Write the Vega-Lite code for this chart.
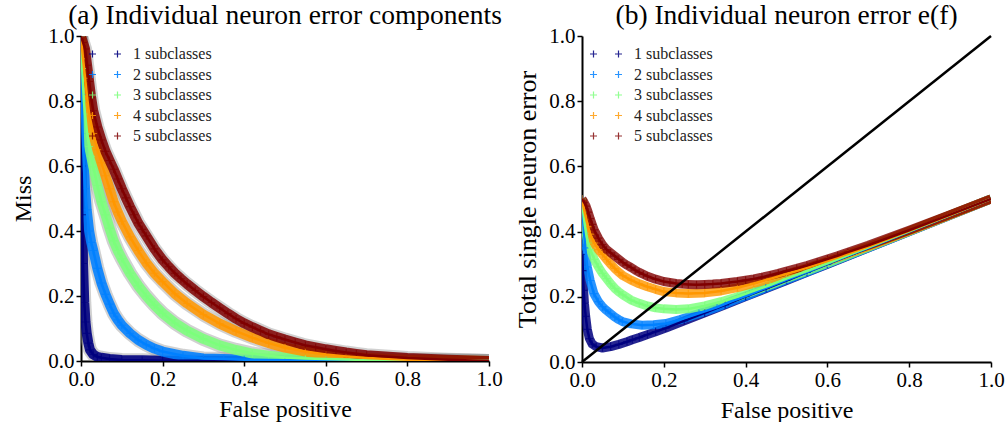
{
  "$schema": "https://vega.github.io/schema/vega-lite/v6.json",
  "background": "white",
  "padding": {"left": 11, "top": 1, "right": 0, "bottom": 0},
  "spacing": 11,
  "config": {
    "font": "Liberation Serif",
    "view": {"stroke": null},
    "axis": {
      "grid": false,
      "domainColor": "black",
      "domainWidth": 2,
      "tickColor": "black",
      "tickWidth": 1.5,
      "tickSize": 5,
      "labelFont": "Liberation Serif",
      "labelFontSize": 21,
      "labelColor": "black",
      "labelPadding": 2,
      "labelFlush": false,
      "titleFont": "Liberation Serif",
      "titleFontSize": 24,
      "titleFontWeight": "normal",
      "titleColor": "black"
    },
    "title": {"font": "Liberation Serif", "fontSize": 27.5, "fontWeight": "normal", "color": "black", "anchor": "middle", "frame": "group", "offset": -4}
  },
  "datasets": {
    "a": [
      {"s":"1 subclasses","f":0,"v":1.0},{"s":"1 subclasses","f":0.001,"v":0.8},{"s":"1 subclasses","f":0.002,"v":0.6},{"s":"1 subclasses","f":0.003,"v":0.45},{"s":"1 subclasses","f":0.005,"v":0.3},{"s":"1 subclasses","f":0.008,"v":0.18},{"s":"1 subclasses","f":0.011,"v":0.12},{"s":"1 subclasses","f":0.014,"v":0.085},{"s":"1 subclasses","f":0.018,"v":0.055},{"s":"1 subclasses","f":0.022,"v":0.034},{"s":"1 subclasses","f":0.03,"v":0.02},{"s":"1 subclasses","f":0.04,"v":0.013},{"s":"1 subclasses","f":0.05,"v":0.01},{"s":"1 subclasses","f":0.07,"v":0.006},{"s":"1 subclasses","f":0.1,"v":0.003},{"s":"1 subclasses","f":0.15,"v":0.002},{"s":"1 subclasses","f":0.2,"v":0.001},{"s":"1 subclasses","f":0.3,"v":0.0005},{"s":"1 subclasses","f":0.5,"v":0},{"s":"1 subclasses","f":1,"v":0},
      {"s":"2 subclasses","f":0,"v":1.0},{"s":"2 subclasses","f":0.001,"v":0.9},{"s":"2 subclasses","f":0.002,"v":0.82},{"s":"2 subclasses","f":0.004,"v":0.7},{"s":"2 subclasses","f":0.007,"v":0.6},{"s":"2 subclasses","f":0.01,"v":0.53},{"s":"2 subclasses","f":0.014,"v":0.465},{"s":"2 subclasses","f":0.02,"v":0.4},{"s":"2 subclasses","f":0.025,"v":0.365},{"s":"2 subclasses","f":0.03,"v":0.34},{"s":"2 subclasses","f":0.04,"v":0.285},{"s":"2 subclasses","f":0.05,"v":0.24},{"s":"2 subclasses","f":0.06,"v":0.205},{"s":"2 subclasses","f":0.07,"v":0.175},{"s":"2 subclasses","f":0.08,"v":0.147},{"s":"2 subclasses","f":0.09,"v":0.127},{"s":"2 subclasses","f":0.1,"v":0.11},{"s":"2 subclasses","f":0.12,"v":0.085},{"s":"2 subclasses","f":0.14,"v":0.065},{"s":"2 subclasses","f":0.16,"v":0.05},{"s":"2 subclasses","f":0.18,"v":0.038},{"s":"2 subclasses","f":0.2,"v":0.029},{"s":"2 subclasses","f":0.25,"v":0.016},{"s":"2 subclasses","f":0.3,"v":0.008},{"s":"2 subclasses","f":0.35,"v":0.006},{"s":"2 subclasses","f":0.4,"v":0.004},{"s":"2 subclasses","f":0.5,"v":0.002},{"s":"2 subclasses","f":0.6,"v":0.001},{"s":"2 subclasses","f":0.8,"v":0.0005},{"s":"2 subclasses","f":1,"v":0},
      {"s":"3 subclasses","f":0,"v":1.0},{"s":"3 subclasses","f":0.003,"v":0.9},{"s":"3 subclasses","f":0.007,"v":0.8},{"s":"3 subclasses","f":0.01,"v":0.76},{"s":"3 subclasses","f":0.015,"v":0.7},{"s":"3 subclasses","f":0.02,"v":0.66},{"s":"3 subclasses","f":0.025,"v":0.63},{"s":"3 subclasses","f":0.03,"v":0.598},{"s":"3 subclasses","f":0.04,"v":0.54},{"s":"3 subclasses","f":0.05,"v":0.49},{"s":"3 subclasses","f":0.06,"v":0.45},{"s":"3 subclasses","f":0.07,"v":0.408},{"s":"3 subclasses","f":0.08,"v":0.37},{"s":"3 subclasses","f":0.09,"v":0.34},{"s":"3 subclasses","f":0.1,"v":0.315},{"s":"3 subclasses","f":0.12,"v":0.27},{"s":"3 subclasses","f":0.14,"v":0.232},{"s":"3 subclasses","f":0.16,"v":0.2},{"s":"3 subclasses","f":0.18,"v":0.172},{"s":"3 subclasses","f":0.2,"v":0.147},{"s":"3 subclasses","f":0.23,"v":0.117},{"s":"3 subclasses","f":0.26,"v":0.093},{"s":"3 subclasses","f":0.3,"v":0.068},{"s":"3 subclasses","f":0.34,"v":0.048},{"s":"3 subclasses","f":0.38,"v":0.034},{"s":"3 subclasses","f":0.42,"v":0.023},{"s":"3 subclasses","f":0.46,"v":0.016},{"s":"3 subclasses","f":0.5,"v":0.011},{"s":"3 subclasses","f":0.55,"v":0.008},{"s":"3 subclasses","f":0.6,"v":0.006},{"s":"3 subclasses","f":0.7,"v":0.003},{"s":"3 subclasses","f":0.8,"v":0.002},{"s":"3 subclasses","f":1,"v":0},
      {"s":"4 subclasses","f":0,"v":1.0},{"s":"4 subclasses","f":0.005,"v":0.93},{"s":"4 subclasses","f":0.01,"v":0.87},{"s":"4 subclasses","f":0.015,"v":0.81},{"s":"4 subclasses","f":0.02,"v":0.76},{"s":"4 subclasses","f":0.03,"v":0.7},{"s":"4 subclasses","f":0.04,"v":0.65},{"s":"4 subclasses","f":0.05,"v":0.61},{"s":"4 subclasses","f":0.06,"v":0.57},{"s":"4 subclasses","f":0.07,"v":0.53},{"s":"4 subclasses","f":0.08,"v":0.49},{"s":"4 subclasses","f":0.09,"v":0.458},{"s":"4 subclasses","f":0.1,"v":0.43},{"s":"4 subclasses","f":0.12,"v":0.382},{"s":"4 subclasses","f":0.14,"v":0.34},{"s":"4 subclasses","f":0.16,"v":0.302},{"s":"4 subclasses","f":0.18,"v":0.27},{"s":"4 subclasses","f":0.2,"v":0.244},{"s":"4 subclasses","f":0.23,"v":0.207},{"s":"4 subclasses","f":0.26,"v":0.177},{"s":"4 subclasses","f":0.3,"v":0.143},{"s":"4 subclasses","f":0.34,"v":0.115},{"s":"4 subclasses","f":0.38,"v":0.092},{"s":"4 subclasses","f":0.42,"v":0.072},{"s":"4 subclasses","f":0.46,"v":0.055},{"s":"4 subclasses","f":0.5,"v":0.041},{"s":"4 subclasses","f":0.55,"v":0.029},{"s":"4 subclasses","f":0.6,"v":0.02},{"s":"4 subclasses","f":0.65,"v":0.014},{"s":"4 subclasses","f":0.7,"v":0.009},{"s":"4 subclasses","f":0.8,"v":0.004},{"s":"4 subclasses","f":0.9,"v":0.002},{"s":"4 subclasses","f":1,"v":0},
      {"s":"5 subclasses","f":0,"v":1.0},{"s":"5 subclasses","f":0.005,"v":0.98},{"s":"5 subclasses","f":0.01,"v":0.96},{"s":"5 subclasses","f":0.015,"v":0.91},{"s":"5 subclasses","f":0.02,"v":0.86},{"s":"5 subclasses","f":0.025,"v":0.81},{"s":"5 subclasses","f":0.03,"v":0.77},{"s":"5 subclasses","f":0.04,"v":0.72},{"s":"5 subclasses","f":0.05,"v":0.68},{"s":"5 subclasses","f":0.06,"v":0.645},{"s":"5 subclasses","f":0.07,"v":0.617},{"s":"5 subclasses","f":0.08,"v":0.59},{"s":"5 subclasses","f":0.09,"v":0.56},{"s":"5 subclasses","f":0.1,"v":0.53},{"s":"5 subclasses","f":0.11,"v":0.502},{"s":"5 subclasses","f":0.12,"v":0.475},{"s":"5 subclasses","f":0.13,"v":0.45},{"s":"5 subclasses","f":0.14,"v":0.425},{"s":"5 subclasses","f":0.15,"v":0.405},{"s":"5 subclasses","f":0.16,"v":0.385},{"s":"5 subclasses","f":0.18,"v":0.345},{"s":"5 subclasses","f":0.2,"v":0.311},{"s":"5 subclasses","f":0.215,"v":0.29},{"s":"5 subclasses","f":0.23,"v":0.27},{"s":"5 subclasses","f":0.245,"v":0.253},{"s":"5 subclasses","f":0.26,"v":0.237},{"s":"5 subclasses","f":0.28,"v":0.217},{"s":"5 subclasses","f":0.3,"v":0.198},{"s":"5 subclasses","f":0.32,"v":0.18},{"s":"5 subclasses","f":0.34,"v":0.163},{"s":"5 subclasses","f":0.36,"v":0.146},{"s":"5 subclasses","f":0.38,"v":0.13},{"s":"5 subclasses","f":0.4,"v":0.116},{"s":"5 subclasses","f":0.42,"v":0.104},{"s":"5 subclasses","f":0.44,"v":0.093},{"s":"5 subclasses","f":0.46,"v":0.082},{"s":"5 subclasses","f":0.48,"v":0.074},{"s":"5 subclasses","f":0.5,"v":0.066},{"s":"5 subclasses","f":0.525,"v":0.057},{"s":"5 subclasses","f":0.55,"v":0.048},{"s":"5 subclasses","f":0.575,"v":0.042},{"s":"5 subclasses","f":0.6,"v":0.036},{"s":"5 subclasses","f":0.625,"v":0.031},{"s":"5 subclasses","f":0.65,"v":0.026},{"s":"5 subclasses","f":0.675,"v":0.022},{"s":"5 subclasses","f":0.7,"v":0.018},{"s":"5 subclasses","f":0.8,"v":0.009},{"s":"5 subclasses","f":0.9,"v":0.004},{"s":"5 subclasses","f":1,"v":0}
    ],
    "b": [
      {"s":"1 subclasses","f":0.001,"v":0.33},{"s":"1 subclasses","f":0.002,"v":0.28},{"s":"1 subclasses","f":0.004,"v":0.22},{"s":"1 subclasses","f":0.006,"v":0.18},{"s":"1 subclasses","f":0.009,"v":0.14},{"s":"1 subclasses","f":0.013,"v":0.1},{"s":"1 subclasses","f":0.018,"v":0.072},{"s":"1 subclasses","f":0.025,"v":0.055},{"s":"1 subclasses","f":0.035,"v":0.047},{"s":"1 subclasses","f":0.05,"v":0.043},{"s":"1 subclasses","f":0.07,"v":0.047},{"s":"1 subclasses","f":0.09,"v":0.054},{"s":"1 subclasses","f":0.11,"v":0.062},{"s":"1 subclasses","f":0.123,"v":0.068},{"s":"1 subclasses","f":0.14,"v":0.075},{"s":"1 subclasses","f":0.16,"v":0.084},{"s":"1 subclasses","f":0.18,"v":0.093},{"s":"1 subclasses","f":0.205,"v":0.104},{"s":"1 subclasses","f":0.25,"v":0.126},{"s":"1 subclasses","f":0.3,"v":0.151},{"s":"1 subclasses","f":0.35,"v":0.1755},{"s":"1 subclasses","f":0.4,"v":0.2005},{"s":"1 subclasses","f":0.45,"v":0.2252},{"s":"1 subclasses","f":0.5,"v":0.25},{"s":"1 subclasses","f":0.55,"v":0.275},{"s":"1 subclasses","f":0.6,"v":0.3},{"s":"1 subclasses","f":0.8,"v":0.4},{"s":"1 subclasses","f":1,"v":0.5},
      {"s":"2 subclasses","f":0,"v":0.5},{"s":"2 subclasses","f":0.002,"v":0.45},{"s":"2 subclasses","f":0.005,"v":0.395},{"s":"2 subclasses","f":0.008,"v":0.35},{"s":"2 subclasses","f":0.013,"v":0.292},{"s":"2 subclasses","f":0.02,"v":0.25},{"s":"2 subclasses","f":0.029,"v":0.21},{"s":"2 subclasses","f":0.04,"v":0.185},{"s":"2 subclasses","f":0.05,"v":0.17},{"s":"2 subclasses","f":0.058,"v":0.16},{"s":"2 subclasses","f":0.07,"v":0.148},{"s":"2 subclasses","f":0.08,"v":0.138},{"s":"2 subclasses","f":0.09,"v":0.13},{"s":"2 subclasses","f":0.099,"v":0.124},{"s":"2 subclasses","f":0.12,"v":0.117},{"s":"2 subclasses","f":0.147,"v":0.113},{"s":"2 subclasses","f":0.175,"v":0.114},{"s":"2 subclasses","f":0.205,"v":0.118},{"s":"2 subclasses","f":0.24,"v":0.13},{"s":"2 subclasses","f":0.286,"v":0.149},{"s":"2 subclasses","f":0.33,"v":0.168},{"s":"2 subclasses","f":0.367,"v":0.187},{"s":"2 subclasses","f":0.41,"v":0.207},{"s":"2 subclasses","f":0.449,"v":0.227},{"s":"2 subclasses","f":0.5,"v":0.252},{"s":"2 subclasses","f":0.55,"v":0.276},{"s":"2 subclasses","f":0.6,"v":0.301},{"s":"2 subclasses","f":0.7,"v":0.3505},{"s":"2 subclasses","f":0.8,"v":0.4003},{"s":"2 subclasses","f":0.9,"v":0.45},{"s":"2 subclasses","f":1,"v":0.5},
      {"s":"3 subclasses","f":0,"v":0.5},{"s":"3 subclasses","f":0.003,"v":0.46},{"s":"3 subclasses","f":0.007,"v":0.42},{"s":"3 subclasses","f":0.01,"v":0.395},{"s":"3 subclasses","f":0.015,"v":0.365},{"s":"3 subclasses","f":0.02,"v":0.345},{"s":"3 subclasses","f":0.03,"v":0.315},{"s":"3 subclasses","f":0.04,"v":0.292},{"s":"3 subclasses","f":0.05,"v":0.272},{"s":"3 subclasses","f":0.06,"v":0.256},{"s":"3 subclasses","f":0.07,"v":0.24},{"s":"3 subclasses","f":0.08,"v":0.226},{"s":"3 subclasses","f":0.09,"v":0.215},{"s":"3 subclasses","f":0.1,"v":0.206},{"s":"3 subclasses","f":0.12,"v":0.19},{"s":"3 subclasses","f":0.14,"v":0.18},{"s":"3 subclasses","f":0.16,"v":0.172},{"s":"3 subclasses","f":0.18,"v":0.166},{"s":"3 subclasses","f":0.2,"v":0.163},{"s":"3 subclasses","f":0.23,"v":0.161},{"s":"3 subclasses","f":0.26,"v":0.163},{"s":"3 subclasses","f":0.3,"v":0.172},{"s":"3 subclasses","f":0.34,"v":0.185},{"s":"3 subclasses","f":0.38,"v":0.2},{"s":"3 subclasses","f":0.42,"v":0.218},{"s":"3 subclasses","f":0.46,"v":0.236},{"s":"3 subclasses","f":0.5,"v":0.256},{"s":"3 subclasses","f":0.55,"v":0.279},{"s":"3 subclasses","f":0.6,"v":0.303},{"s":"3 subclasses","f":0.7,"v":0.352},{"s":"3 subclasses","f":0.8,"v":0.401},{"s":"3 subclasses","f":0.9,"v":0.4505},{"s":"3 subclasses","f":1,"v":0.5},
      {"s":"4 subclasses","f":0,"v":0.5},{"s":"4 subclasses","f":0.005,"v":0.467},{"s":"4 subclasses","f":0.01,"v":0.44},{"s":"4 subclasses","f":0.015,"v":0.415},{"s":"4 subclasses","f":0.02,"v":0.392},{"s":"4 subclasses","f":0.03,"v":0.365},{"s":"4 subclasses","f":0.04,"v":0.345},{"s":"4 subclasses","f":0.05,"v":0.33},{"s":"4 subclasses","f":0.06,"v":0.315},{"s":"4 subclasses","f":0.07,"v":0.3},{"s":"4 subclasses","f":0.08,"v":0.287},{"s":"4 subclasses","f":0.09,"v":0.275},{"s":"4 subclasses","f":0.1,"v":0.265},{"s":"4 subclasses","f":0.12,"v":0.251},{"s":"4 subclasses","f":0.14,"v":0.24},{"s":"4 subclasses","f":0.16,"v":0.231},{"s":"4 subclasses","f":0.18,"v":0.223},{"s":"4 subclasses","f":0.2,"v":0.216},{"s":"4 subclasses","f":0.23,"v":0.212},{"s":"4 subclasses","f":0.26,"v":0.21},{"s":"4 subclasses","f":0.3,"v":0.212},{"s":"4 subclasses","f":0.34,"v":0.218},{"s":"4 subclasses","f":0.38,"v":0.228},{"s":"4 subclasses","f":0.42,"v":0.241},{"s":"4 subclasses","f":0.46,"v":0.255},{"s":"4 subclasses","f":0.5,"v":0.27},{"s":"4 subclasses","f":0.55,"v":0.289},{"s":"4 subclasses","f":0.6,"v":0.31},{"s":"4 subclasses","f":0.65,"v":0.332},{"s":"4 subclasses","f":0.7,"v":0.354},{"s":"4 subclasses","f":0.8,"v":0.402},{"s":"4 subclasses","f":0.9,"v":0.451},{"s":"4 subclasses","f":1,"v":0.5},
      {"s":"5 subclasses","f":0,"v":0.5},{"s":"5 subclasses","f":0.005,"v":0.49},{"s":"5 subclasses","f":0.01,"v":0.478},{"s":"5 subclasses","f":0.015,"v":0.46},{"s":"5 subclasses","f":0.02,"v":0.44},{"s":"5 subclasses","f":0.025,"v":0.422},{"s":"5 subclasses","f":0.03,"v":0.405},{"s":"5 subclasses","f":0.04,"v":0.38},{"s":"5 subclasses","f":0.05,"v":0.36},{"s":"5 subclasses","f":0.06,"v":0.345},{"s":"5 subclasses","f":0.07,"v":0.335},{"s":"5 subclasses","f":0.08,"v":0.325},{"s":"5 subclasses","f":0.09,"v":0.315},{"s":"5 subclasses","f":0.1,"v":0.305},{"s":"5 subclasses","f":0.11,"v":0.297},{"s":"5 subclasses","f":0.12,"v":0.29},{"s":"5 subclasses","f":0.13,"v":0.282},{"s":"5 subclasses","f":0.14,"v":0.275},{"s":"5 subclasses","f":0.15,"v":0.269},{"s":"5 subclasses","f":0.16,"v":0.263},{"s":"5 subclasses","f":0.18,"v":0.254},{"s":"5 subclasses","f":0.2,"v":0.247},{"s":"5 subclasses","f":0.215,"v":0.244},{"s":"5 subclasses","f":0.23,"v":0.241},{"s":"5 subclasses","f":0.245,"v":0.239},{"s":"5 subclasses","f":0.26,"v":0.238},{"s":"5 subclasses","f":0.28,"v":0.237},{"s":"5 subclasses","f":0.3,"v":0.238},{"s":"5 subclasses","f":0.32,"v":0.239},{"s":"5 subclasses","f":0.34,"v":0.241},{"s":"5 subclasses","f":0.36,"v":0.244},{"s":"5 subclasses","f":0.38,"v":0.247},{"s":"5 subclasses","f":0.4,"v":0.251},{"s":"5 subclasses","f":0.42,"v":0.255},{"s":"5 subclasses","f":0.44,"v":0.26},{"s":"5 subclasses","f":0.46,"v":0.266},{"s":"5 subclasses","f":0.48,"v":0.272},{"s":"5 subclasses","f":0.5,"v":0.279},{"s":"5 subclasses","f":0.525,"v":0.287},{"s":"5 subclasses","f":0.55,"v":0.296},{"s":"5 subclasses","f":0.575,"v":0.306},{"s":"5 subclasses","f":0.6,"v":0.316},{"s":"5 subclasses","f":0.625,"v":0.326},{"s":"5 subclasses","f":0.65,"v":0.337},{"s":"5 subclasses","f":0.7,"v":0.358},{"s":"5 subclasses","f":0.8,"v":0.404},{"s":"5 subclasses","f":0.9,"v":0.452},{"s":"5 subclasses","f":1,"v":0.5}
    ],
    "diag": [{"f": 0, "v": 0}, {"f": 1, "v": 1}]
  },
  "resolve": {"scale": {"color": "independent", "opacity": "independent"}},
  "hconcat": [
    {
      "width": 408,
      "height": 325,
      "title": "(a) Individual neuron error components",
      "data": {"name": "a"},
      "encoding": {
        "x": {"field": "f", "type": "quantitative", "scale": {"domain": [0, 1], "nice": false},
              "axis": {"title": "False positive", "values": [0, 0.2, 0.4, 0.6, 0.8, 1], "format": ".1f", "titlePadding": 8}},
        "y": {"field": "v", "type": "quantitative", "scale": {"domain": [0, 1], "nice": false},
              "axis": {"title": "Miss", "values": [0, 0.2, 0.4, 0.6, 0.8, 1], "format": ".1f", "titlePadding": 12}}
      },
      "layer": [
        {
          "mark": {"type": "line", "stroke": "#999999", "strokeWidth": 14, "opacity": 0.45, "clip": true, "strokeJoin": "round"},
          "encoding": {"detail": {"field": "s", "type": "nominal"}}
        },
        {
          "mark": {"type": "line", "strokeWidth": 10, "clip": true, "strokeJoin": "round"},
          "encoding": {
            "color": {"field": "s", "type": "nominal",
                      "scale": {"domain": ["1 subclasses", "2 subclasses", "3 subclasses", "4 subclasses", "5 subclasses"],
                                "range": ["#00007f", "#0080ff", "#7bff7b", "#ff9700", "#7f0000"]},
                      "legend": {"orient": "none", "legendX": 16, "legendY": 10, "title": null, "padding": 0,
                                 "symbolType": "M-3.2,0H-1.8M-2.5,-0.7V0.7M1.8,0H3.2M2.5,-0.7V0.7",
                                 "symbolSize": 100, "symbolStrokeWidth": 1.2, "symbolOpacity": 1,
                                 "symbolFillColor": "transparent",
                                 "labelFont": "Liberation Serif", "labelFontSize": 16, "labelColor": "#222222",
                                 "labelOffset": 20, "rowPadding": 4.5}},
            "opacity": {"field": "s", "type": "nominal", "legend": null,
                        "scale": {"domain": ["1 subclasses", "2 subclasses", "3 subclasses", "4 subclasses", "5 subclasses"],
                                  "range": [0.9, 0.85, 0.9, 0.9, 0.25]}}
          }
        },
        {
          "transform": [{"filter": "datum.f <= 0.72"}],
          "mark": {"type": "point", "shape": "M-1,0H1M0,-1V1", "filled": false, "size": 60, "strokeWidth": 1.2, "clip": true},
          "encoding": {
            "color": {"field": "s", "type": "nominal",
                      "scale": {"domain": ["1 subclasses", "2 subclasses", "3 subclasses", "4 subclasses", "5 subclasses"],
                                "range": ["#00007f", "#0080ff", "#7bff7b", "#ff9700", "#7f0000"]}}
          }
        },
        {
          "mark": {"type": "line", "strokeWidth": 2.5, "clip": true},
          "encoding": {
            "color": {"field": "s", "type": "nominal",
                      "scale": {"domain": ["1 subclasses", "2 subclasses", "3 subclasses", "4 subclasses", "5 subclasses"],
                                "range": ["#00007f", "#0080ff", "#7bff7b", "#ff9700", "#7f0000"]}}
          }
        }
      ]
    },
    {
      "width": 409,
      "height": 326,
      "title": "(b) Individual neuron error e(f)",
      "encoding": {
        "x": {"field": "f", "type": "quantitative", "scale": {"domain": [0, 1], "nice": false},
              "axis": {"title": "False positive", "values": [0, 0.2, 0.4, 0.6, 0.8, 1], "format": ".1f", "titlePadding": 8}},
        "y": {"field": "v", "type": "quantitative", "scale": {"domain": [0, 1], "nice": false},
              "axis": {"title": "Total single neuron error", "titleFontSize": 26, "values": [0, 0.2, 0.4, 0.6, 0.8, 1], "format": ".1f", "titlePadding": 8}}
      },
      "layer": [
        {
          "data": {"name": "b"},
          "mark": {"type": "line", "strokeWidth": 9, "clip": true, "strokeJoin": "round"},
          "encoding": {
            "color": {"field": "s", "type": "nominal",
                      "scale": {"domain": ["1 subclasses", "2 subclasses", "3 subclasses", "4 subclasses", "5 subclasses"],
                                "range": ["#00007f", "#0080ff", "#7bff7b", "#ff9700", "#7f0000"]},
                      "legend": {"orient": "none", "legendX": 16, "legendY": 10, "title": null, "padding": 0,
                                 "symbolType": "M-3.2,0H-1.8M-2.5,-0.7V0.7M1.8,0H3.2M2.5,-0.7V0.7",
                                 "symbolSize": 100, "symbolStrokeWidth": 1.2, "symbolOpacity": 1,
                                 "symbolFillColor": "transparent",
                                 "labelFont": "Liberation Serif", "labelFontSize": 16, "labelColor": "#222222",
                                 "labelOffset": 20, "rowPadding": 4.5}},
            "opacity": {"field": "s", "type": "nominal", "legend": null,
                        "scale": {"domain": ["1 subclasses", "2 subclasses", "3 subclasses", "4 subclasses", "5 subclasses"],
                                  "range": [0.85, 0.8, 0.85, 0.9, 0.55]}}
          }
        },
        {
          "data": {"name": "b"},
          "transform": [{"filter": "datum.f <= 0.65"}],
          "mark": {"type": "point", "shape": "M-1,0H1M0,-1V1", "filled": false, "size": 60, "strokeWidth": 1.2, "clip": true},
          "encoding": {
            "color": {"field": "s", "type": "nominal",
                      "scale": {"domain": ["1 subclasses", "2 subclasses", "3 subclasses", "4 subclasses", "5 subclasses"],
                                "range": ["#00007f", "#0080ff", "#7bff7b", "#ff9700", "#7f0000"]}}
          }
        },
        {
          "data": {"name": "b"},
          "mark": {"type": "line", "strokeWidth": 2.5, "clip": true},
          "encoding": {
            "color": {"field": "s", "type": "nominal",
                      "scale": {"domain": ["1 subclasses", "2 subclasses", "3 subclasses", "4 subclasses", "5 subclasses"],
                                "range": ["#00007f", "#0080ff", "#7bff7b", "#ff9700", "#7f0000"]}}
          }
        },
        {
          "data": {"name": "diag"},
          "mark": {"type": "line", "color": "black", "strokeWidth": 2.5},
          "encoding": {}
        }
      ]
    }
  ]
}
